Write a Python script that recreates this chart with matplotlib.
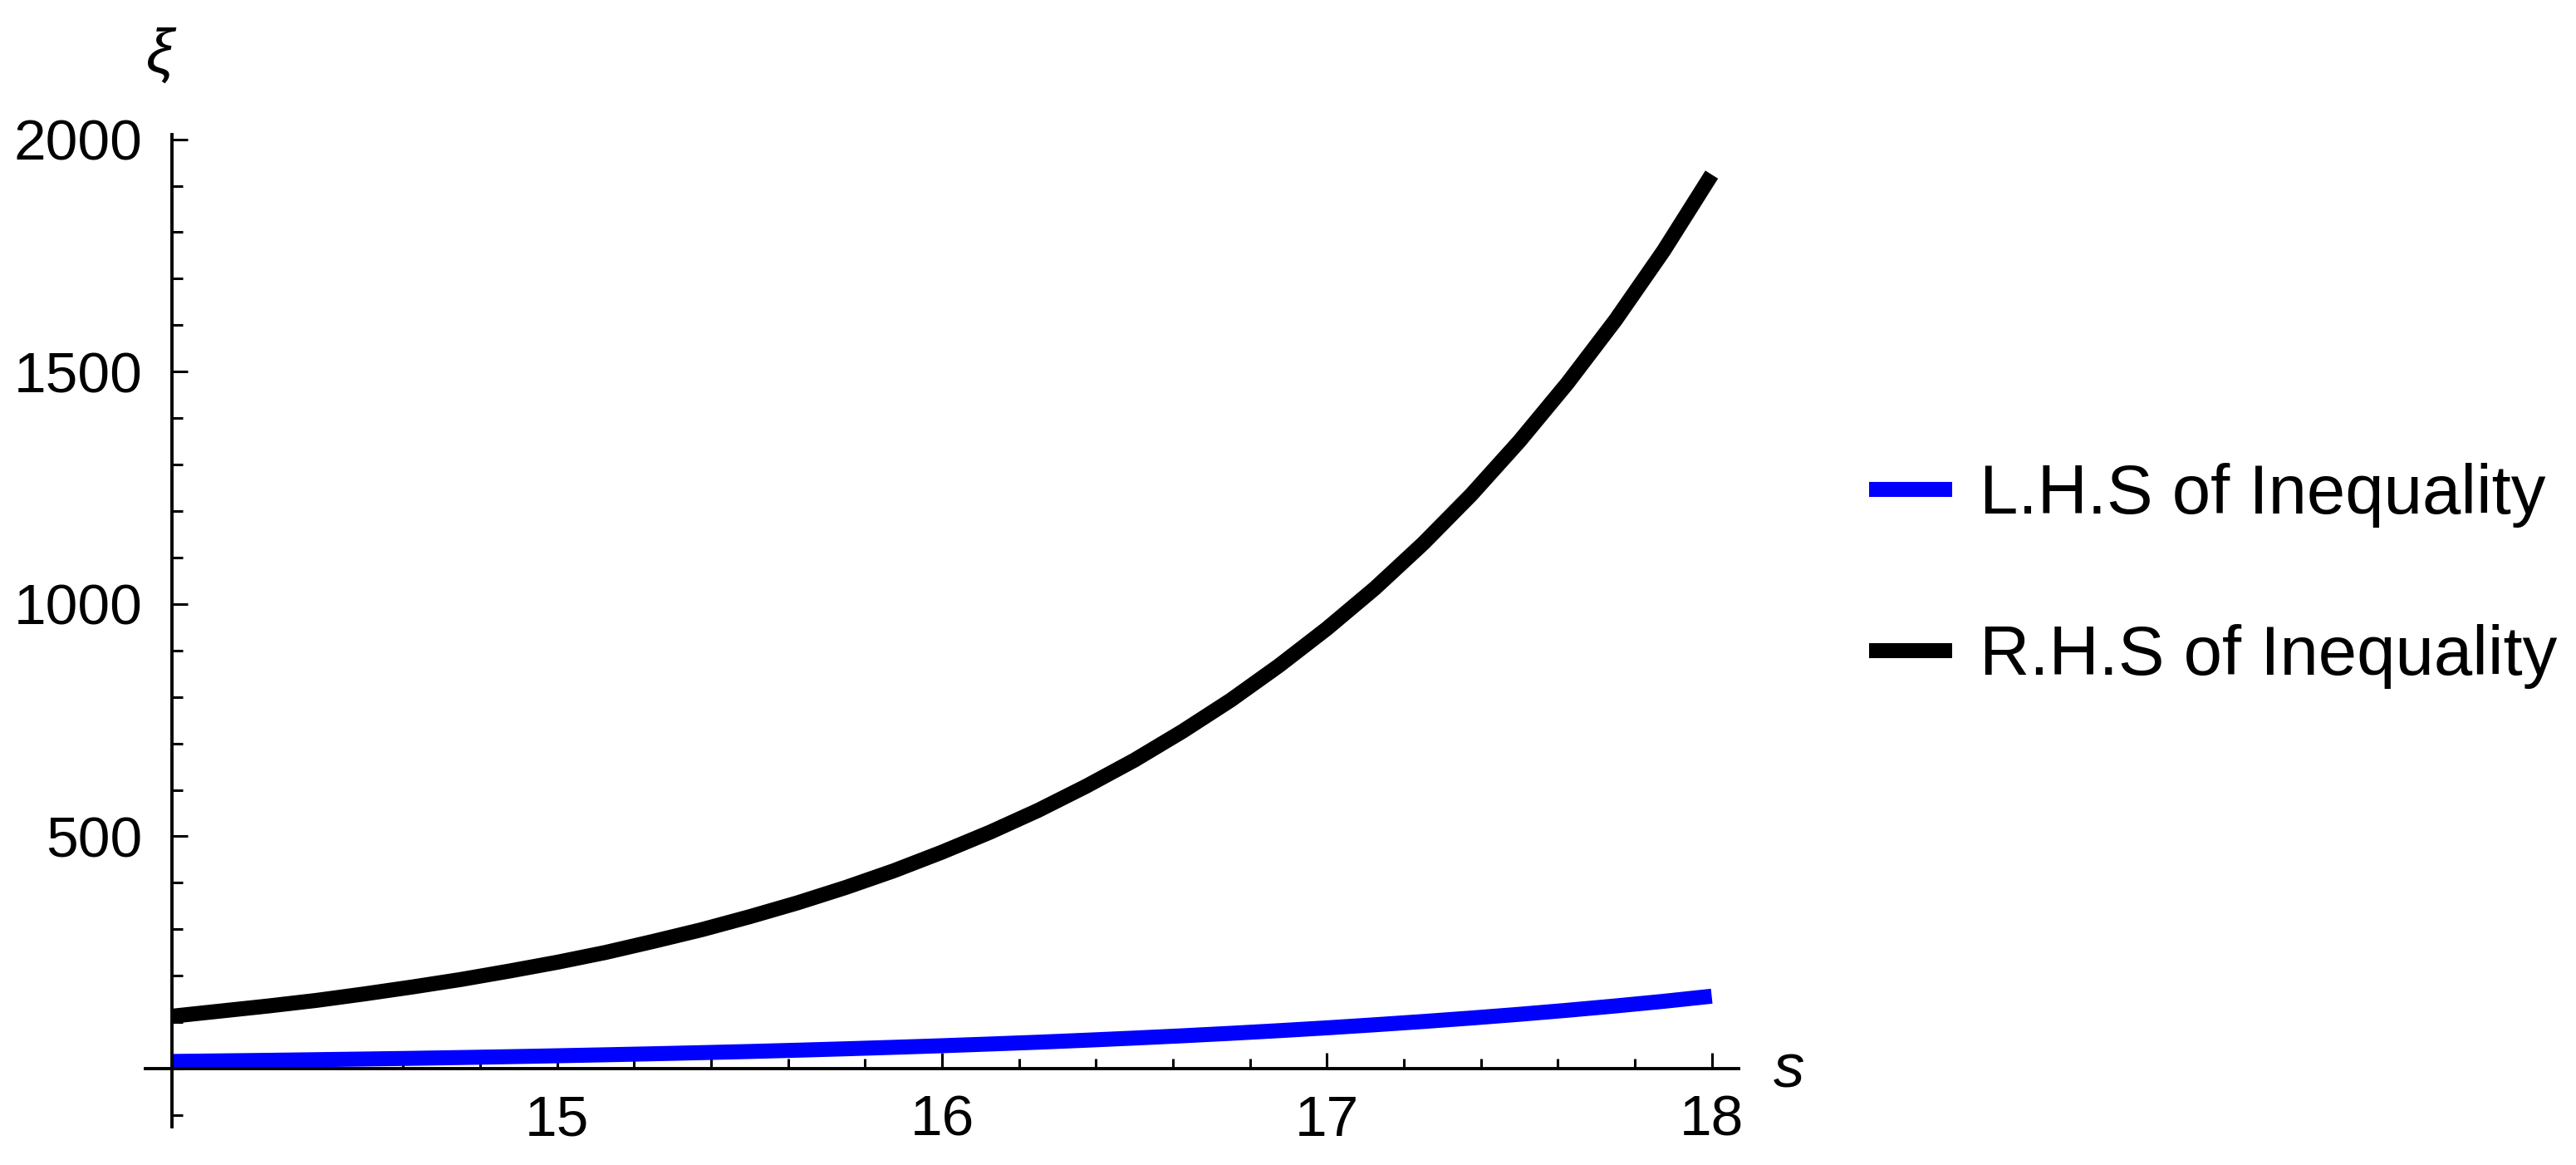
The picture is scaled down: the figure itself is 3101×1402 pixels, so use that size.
import matplotlib
matplotlib.use("Agg")
import matplotlib.pyplot as plt
from matplotlib.ticker import MultipleLocator

# values
s_vals = [14.0, 14.125, 14.25, 14.375, 14.5, 14.625, 14.75, 14.875,
          15.0, 15.125, 15.25, 15.375, 15.5, 15.625, 15.75, 15.875,
          16.0, 16.125, 16.25, 16.375, 16.5, 16.625, 16.75, 16.875,
          17.0, 17.125, 17.25, 17.375, 17.5, 17.625, 17.75, 17.875, 18.0]
lhs_vals = [15.6, 16.8, 18.0, 19.4, 20.8, 22.3, 24.0, 25.8,
            27.8, 29.9, 32.1, 34.5, 37.0, 39.8, 42.8, 46.0,
            49.4, 53.1, 57.0, 61.3, 65.9, 70.8, 76.1, 81.8,
            87.9, 94.5, 101.5, 109.0, 117.0, 125.7, 135.0, 145.0, 156.0]
rhs_vals = [113, 124, 135, 147, 161, 176, 192, 210,
            229, 250, 274, 299, 327, 357, 390, 426,
            466, 509, 556, 608, 664, 726, 793, 867,
            947, 1034, 1130, 1235, 1350, 1475, 1611, 1760, 1924]
x_ticks = [15, 16, 17, 18]
y_ticks = [500, 1000, 1500, 2000]
labels = ["L.H.S of Inequality", "R.H.S of Inequality"]

plt.rcParams["font.family"] = ["Liberation Sans", "DejaVu Sans"]

W, H = 3101, 1402
fig = plt.figure(figsize=(W / 100, H / 100), dpi=100)
ax = fig.add_axes([175 / W, 46 / H, 1918 / W, 1194 / H])
ax.set_xlim(13.93, 18.07)
ax.set_ylim(-125, 2010)

l1, = ax.plot(s_vals, lhs_vals, color="#0000ff", lw=13, solid_capstyle="butt")
l2, = ax.plot(s_vals, rhs_vals, color="black", lw=13, solid_capstyle="butt")

# Mathematica style crossing axes
for side in ["top", "right"]:
    ax.spines[side].set_visible(False)
ax.spines["left"].set_position(("data", 14))
ax.spines["bottom"].set_position(("data", 0))
for side in ["left", "bottom"]:
    ax.spines[side].set_linewidth(2.8)

ax.set_xticks(x_ticks)
ax.set_yticks(y_ticks)
ax.xaxis.set_minor_locator(MultipleLocator(0.2))
ax.yaxis.set_minor_locator(MultipleLocator(100))
ax.tick_params(which="both", direction="in", width=2.2, labelsize=50)
ax.tick_params(which="major", length=14)
ax.tick_params(which="minor", length=9)
ax.tick_params(axis="x", pad=22)
ax.tick_params(axis="y", pad=26)

ax.text(13.968, 2180, "ξ", fontsize=54, style="italic", ha="center",
        va="center", clip_on=False)
ax.text(18.2, -5, "s", fontsize=54, style="italic", ha="center",
        va="center", clip_on=False)

fig.legend([l1, l2], labels, loc="center left",
           bbox_to_anchor=(2250 / W, 1 - 693 / H), fontsize=60,
           frameon=False, handlelength=1.2, handletextpad=0.4,
           labelspacing=1.4, borderpad=0, borderaxespad=0)

fig.savefig("out.png", dpi=100)
